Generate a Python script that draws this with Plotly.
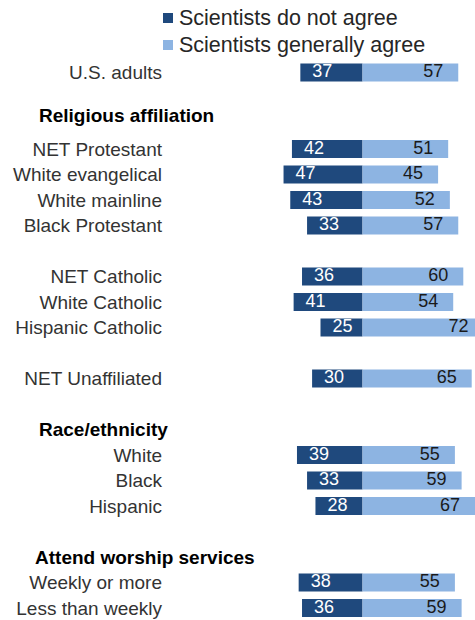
import plotly.graph_objects as go

# ---- data ----
categories = ["U.S. adults", "NET Protestant", "White evangelical", "White mainline",
              "Black Protestant", "NET Catholic", "White Catholic", "Hispanic Catholic",
              "NET Unaffiliated", "White", "Black", "Hispanic",
              "Weekly or more", "Less than weekly"]
not_agree = [37, 42, 47, 43, 33, 36, 41, 25, 30, 39, 33, 28, 38, 36]
agree = [57, 51, 45, 52, 57, 60, 54, 72, 65, 55, 59, 67, 55, 59]
row_slots = [0, 3, 4, 5, 6, 8, 9, 10, 12, 15, 16, 17, 20, 21]
section_headers = ["Religious affiliation", "Race/ethnicity", "Attend worship services"]
header_slots = [1.67, 14.0, 19.0]
series_names = ["Scientists do not agree", "Scientists generally agree"]

# ---- styling / layout constants ----
DARK = "#1f497d"
LIGHT = "#8db4e2"
FONT = "Liberation Sans"
W, H = 475, 620
ML = 168
PX_PER_UNIT = 1.68
CENTER_PX = 362.5
PITCH = 25.5
FIRST_ROW_PX = 72.5
DARK_TEXT_PAD = 12   # px from the outer end of dark bar
LIGHT_TEXT_PAD = 15  # px from the outer end of light bar
HEADER_X = [37, 37, 33]

x0 = -(CENTER_PX - ML) / PX_PER_UNIT
x1 = x0 + (W - ML) / PX_PER_UNIT
y_top = -FIRST_ROW_PX / PITCH
y_bot = y_top + H / PITCH
d_dark = DARK_TEXT_PAD / PX_PER_UNIT
d_light = LIGHT_TEXT_PAD / PX_PER_UNIT


def px_to_paper_x(px):
    return (px - ML) / (W - ML)


def px_to_paper_y(py):
    return 1 - py / H


fig = go.Figure()
fig.add_bar(y=row_slots, x=[-v for v in not_agree], orientation="h",
            marker=dict(color=DARK, line=dict(width=0)), width=0.706,
            name=series_names[0], showlegend=False)
fig.add_bar(y=row_slots, x=agree, orientation="h",
            marker=dict(color=LIGHT, line=dict(width=0)), width=0.706,
            name=series_names[1], showlegend=False)
# value labels: drawn on overlay axes that share the scale but are shifted by the padding
fig.add_scatter(y=row_slots, x=[-v for v in not_agree], mode="text", xaxis="x3",
                text=[str(v) for v in not_agree],
                textposition="middle right", cliponaxis=False,
                textfont=dict(color="white", size=18, family=FONT),
                showlegend=False, hoverinfo="skip")
fig.add_scatter(y=row_slots, x=agree, mode="text", xaxis="x2",
                text=[str(v) for v in agree],
                textposition="middle left", cliponaxis=False,
                textfont=dict(color="#1a1a1a", size=18, family=FONT),
                showlegend=False, hoverinfo="skip")

annotations = []
for txt, s, hx in zip(section_headers, header_slots, HEADER_X):
    annotations.append(dict(text="<b>" + txt + "</b>", xref="paper", yref="y",
                            x=px_to_paper_x(hx), y=s, xanchor="left", yanchor="middle",
                            showarrow=False, font=dict(size=19, color="black", family=FONT)))

shapes = []
legend_y = [18, 45]
for name, col, ly in zip(series_names, [DARK, LIGHT], legend_y):
    shapes.append(dict(type="rect", xref="paper", yref="paper",
                       x0=px_to_paper_x(163), x1=px_to_paper_x(173),
                       y0=px_to_paper_y(ly - 5), y1=px_to_paper_y(ly + 5),
                       fillcolor=col, line=dict(width=0)))
    annotations.append(dict(text=name, xref="paper", yref="paper",
                            x=px_to_paper_x(177), y=px_to_paper_y(ly),
                            xanchor="left", yanchor="middle", showarrow=False,
                            font=dict(size=21.5, color="#262626", family=FONT)))

fig.update_layout(
    width=W, height=H,
    margin=dict(l=ML, r=0, t=0, b=0),
    paper_bgcolor="white", plot_bgcolor="white",
    barmode="relative",
    showlegend=False,
    xaxis=dict(range=[x0, x1], visible=False, fixedrange=True),
    xaxis2=dict(range=[x0 + d_light, x1 + d_light], overlaying="x", visible=False,
                fixedrange=True),
    xaxis3=dict(range=[x0 - d_dark, x1 - d_dark], overlaying="x", visible=False,
                fixedrange=True),
    yaxis=dict(range=[y_bot, y_top], tickvals=row_slots, ticktext=categories,
               showgrid=False, zeroline=False, ticks="", showline=False,
               ticklabelstandoff=5,
               tickfont=dict(size=19, color="#333333", family=FONT), fixedrange=True),
    annotations=annotations,
    shapes=shapes,
    font=dict(family=FONT),
)

fig.write_html("out.html")
